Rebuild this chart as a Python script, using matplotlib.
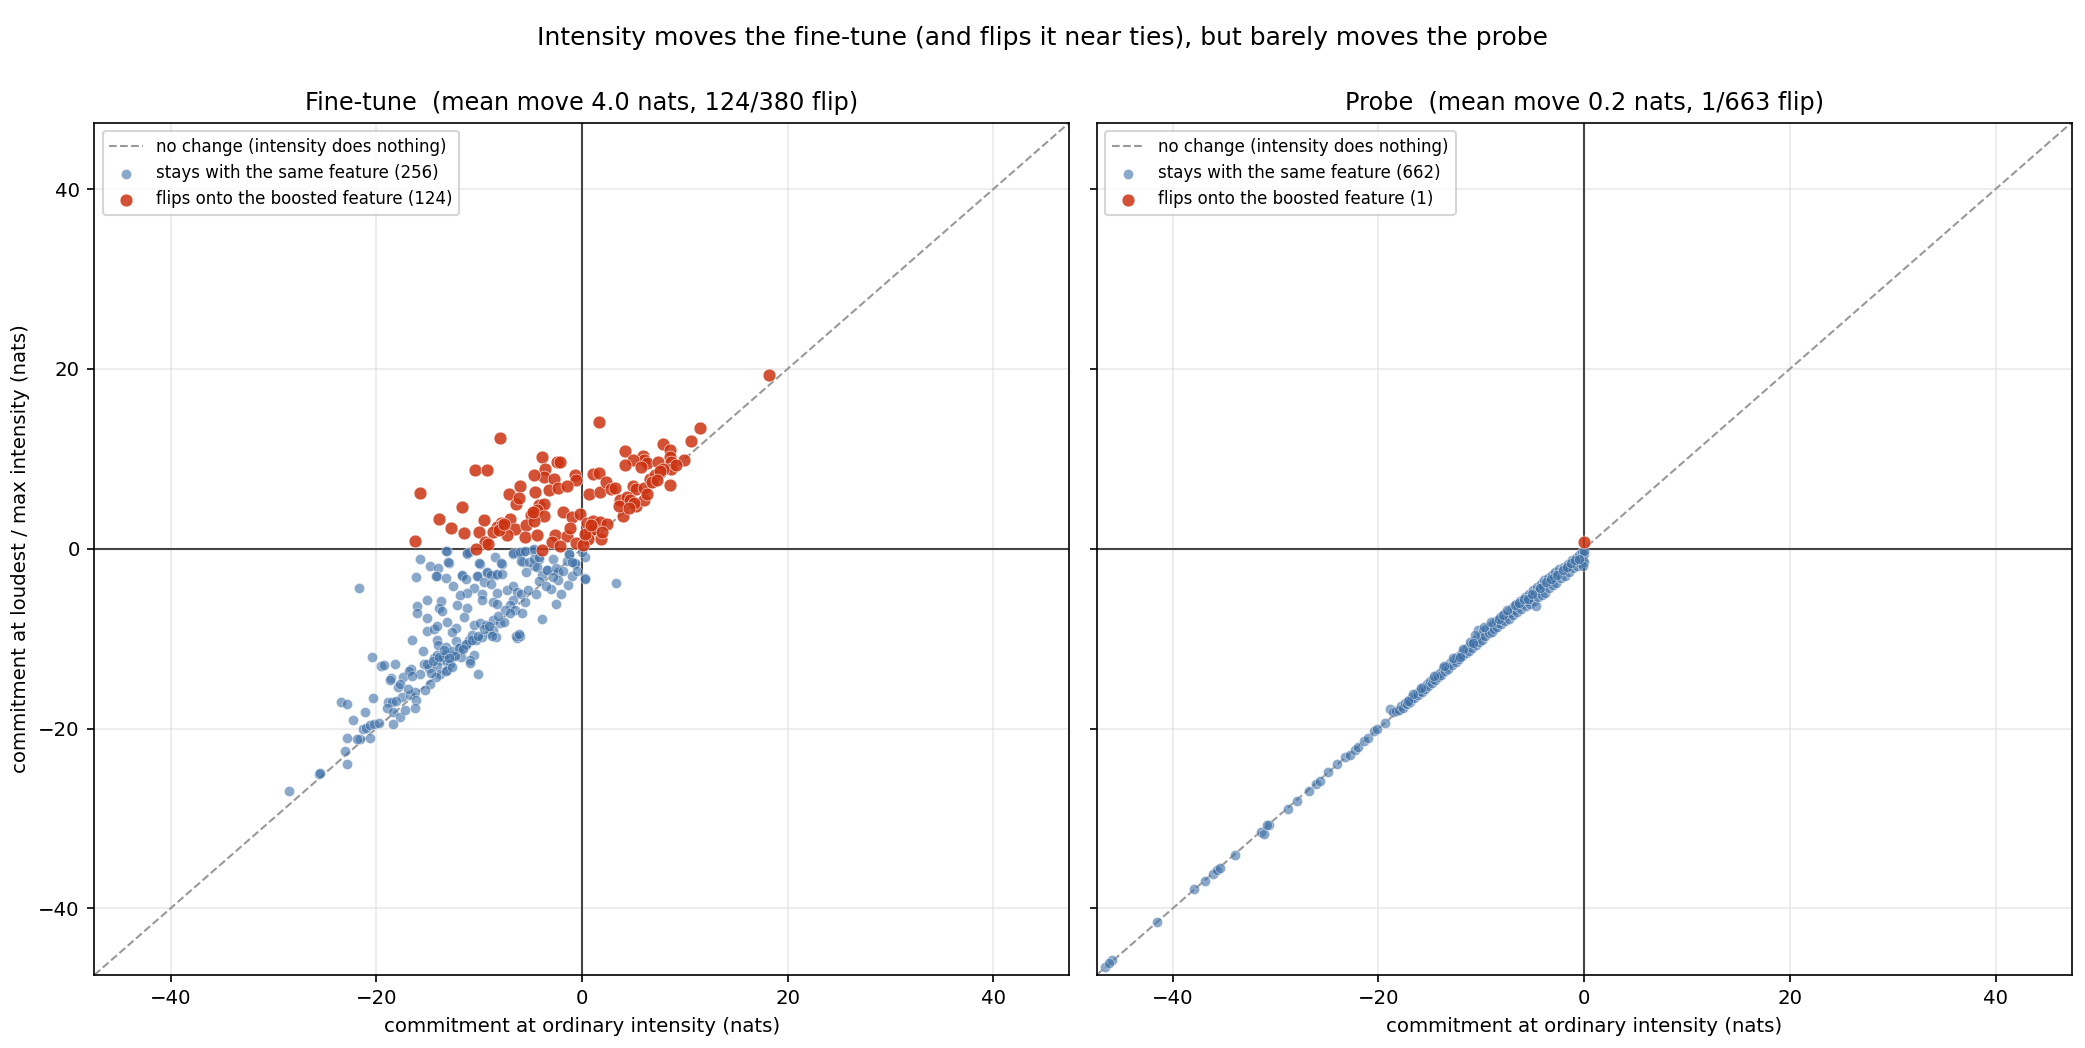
import numpy as np
import matplotlib.pyplot as plt

# fine-tune: points that keep the same feature (x = ordinary, y = loudest)
FT_STAY = [
    (-15.7, -1.1), (-14.8, -1.9), (-14.0, -2.2), (-13.1, -0.2), (-12.9, -1.6), (-11.2, -0.6),
    (-11.0, -0.4), (-9.9, -1.7), (-8.5, -0.9), (-7.8, -1.7), (-6.7, -0.6), (-6.2, -0.5),
    (-5.7, -0.4), (-4.9, -0.1), (-5.7, -1.5), (-4.7, -1.9), (-4.2, -1.1), (-2.8, -1.2),
    (-1.3, -0.6), (-0.7, -1.7), (0.3, -0.9), (-16.1, -3.2), (-14.1, -3.0), (-11.7, -3.0),
    (-10.1, -3.0), (-9.2, -2.7), (-8.4, -2.9), (-5.4, -2.6), (-3.4, -2.4), (-2.3, -2.6),
    (0.3, -3.3), (3.3, -3.8), (-21.7, -4.4), (-13.2, -0.2), (-11.2, -0.5), (-13.0, -1.5),
    (-14.2, -3.0), (-13.2, -3.3), (-11.7, -2.9), (-11.3, -3.4), (-12.5, -4.2), (-10.5, -4.4),
    (-11.2, -4.9), (-11.9, -5.1), (-10.0, -1.6), (-7.9, -1.6), (-10.2, -3.0), (-9.5, -3.7),
    (-9.2, -2.6), (-8.8, -2.9), (-8.3, -2.8), (-7.8, -2.8), (-8.8, -3.9), (-8.3, -4.9),
    (-9.7, -5.0), (-9.7, -5.7), (-8.6, -5.9), (-8.3, -6.1), (-6.7, -0.5), (-6.0, -0.4),
    (-5.5, -0.3), (-4.7, 0.0), (-5.9, -1.4), (-5.1, -1.5), (-4.7, -1.2), (-4.2, -0.9),
    (-4.4, -2.0), (-3.9, -2.9), (-3.4, -2.4), (-2.5, -2.2), (-1.5, -1.4), (-0.7, -1.6),
    (-1.3, -0.6), (-4.2, -3.6), (-2.3, -3.5), (-1.4, -4.0), (0.3, -3.4), (-7.3, -4.6),
    (-6.7, -4.2), (-6.3, -4.8), (-5.9, -5.0), (-5.2, -4.6), (-6.7, -5.7), (-7.0, -6.3),
    (-7.5, -6.8), (-6.5, -6.8), (-5.8, -7.1), (-2.5, -6.1), (-3.9, -7.8), (-15.1, -5.7),
    (-13.7, -5.8), (-16.0, -6.4), (-16.0, -7.2), (-13.9, -6.6), (-13.6, -6.9), (-12.1, -6.3),
    (-11.2, -6.6), (-15.1, -7.7), (-13.1, -8.2), (-11.5, -7.6), (-10.5, -8.5), (-9.9, -8.3),
    (-9.3, -8.5), (-8.6, -7.9), (-8.0, -8.3), (-7.6, -8.1), (-8.6, -9.0), (-8.9, -9.4),
    (-8.4, -9.8), (-15.1, -9.1), (-14.4, -8.9), (-14.1, -8.6), (-12.2, -8.8), (-12.6, -9.3),
    (-16.5, -10.1), (-15.5, -11.4), (-14.1, -10.2), (-14.0, -10.7), (-13.2, -10.9), (-12.2, -10.3),
    (-11.9, -10.9), (-11.3, -10.7), (-11.0, -10.2), (-10.7, -9.6), (-10.3, -10.2), (-9.7, -9.8),
    (-6.3, -9.9), (-6.0, -9.7), (-20.4, -12.0), (-19.5, -13.1), (-19.2, -12.9), (-18.2, -12.8),
    (-14.4, -12.2), (-14.1, -11.8), (-13.8, -12.4), (-13.5, -12.1), (-13.1, -12.6), (-12.8, -12.8),
    (-15.4, -12.8), (-14.9, -13.3), (-15.7, -13.9), (-14.1, -13.1), (-12.5, -11.8), (-11.8, -12.0),
    (-10.5, -11.8), (-10.9, -12.4), (-13.1, -13.5), (-13.8, -13.9), (-10.1, -13.9), (-16.6, -13.4),
    (-17.4, -14.3), (-18.6, -14.4), (-17.9, -15.4), (-17.7, -15.0), (-20.3, -16.6), (-18.9, -17.0),
    (-17.5, -16.5), (-16.7, -16.3), (-16.2, -15.9), (-16.1, -16.8), (-23.4, -17.0), (-22.8, -17.3),
    (-18.7, -14.6), (-16.8, -13.6), (-16.5, -14.2), (-18.5, -17.1), (-18.1, -16.9), (-16.2, -17.7),
    (-19.0, -17.7), (-18.4, -18.2), (-17.7, -18.7), (-17.2, -17.9), (-21.1, -18.2), (-22.3, -19.1),
    (-21.3, -20.1), (-21.0, -19.9), (-20.6, -19.6), (-20.2, -19.5), (-19.7, -19.4), (-20.6, -21.0),
    (-21.6, -21.2), (-21.9, -21.2), (-22.8, -21.0), (-18.4, -19.5), (-23.0, -22.5), (-22.8, -24.0),
    (-25.6, -25.1), (-25.5, -25.0), (-28.5, -26.9), (-15.1, -12.8), (-14.5, -12.5), (-13.9, -12.1),
    (-13.2, -11.7), (-12.6, -11.4), (-12.0, -11.0), (-11.3, -10.6), (-10.7, -10.1), (-10.1, -9.7),
    (-14.2, -14.3), (-14.8, -15.0), (-15.3, -15.7), (-13.2, -13.6), (-12.6, -13.2), (-10.9, -12.7),
    (-8.7, -9.7), (-6.4, -9.7), (-6.1, -9.5), (-3.0, -4.5), (-2.0, -5.0), (-1.0, -3.0),
    (-0.5, -2.5), (-9.5, -8.9), (-9.0, -8.6), (-8.2, -7.5), (-7.0, -7.2), (-5.5, -5.9),
    (-4.5, -5.0), (-3.5, -4.1), (-2.8, -3.2), (-1.8, -2.5), (-1.0, -1.5), (0.0, -0.4),
    (-13.4, -11.3), (-12.3, -11.9), (-11.6, -11.2), (-12.9, -12.2), (-14.7, -13.8), (-16.9, -15.6),
]

# fine-tune: points that flip onto the boosted feature
FT_FLIP = [
    (1.7, 14.1), (-8.0, 12.3), (11.5, 13.4), (10.6, 12.0), (7.9, 11.6), (8.6, 11.0),
    (4.2, 10.9), (-3.9, 10.2), (-2.4, 9.7), (-2.1, 9.7), (-10.4, 8.8), (-9.2, 8.7),
    (5.9, 10.3), (6.0, 9.9), (5.0, 9.9), (6.3, 9.5), (4.2, 9.3), (5.7, 9.1),
    (7.4, 9.6), (8.6, 10.2), (8.7, 9.7), (9.9, 9.9), (8.7, 8.9), (7.9, 8.9),
    (-3.6, 8.9), (-3.7, 8.0), (-4.7, 8.2), (-2.7, 7.7), (-0.7, 8.2), (-0.6, 7.6),
    (1.1, 8.3), (1.7, 8.4), (-15.7, 6.2), (-7.1, 6.1), (-6.0, 7.0), (-4.6, 6.3),
    (-3.2, 6.5), (-2.3, 6.7), (-1.5, 7.0), (0.7, 6.1), (1.8, 6.3), (2.3, 7.4),
    (2.8, 6.6), (3.2, 6.7), (5.0, 7.0), (5.3, 6.6), (6.0, 6.7), (6.6, 7.8),
    (7.1, 8.2), (7.6, 8.6), (6.8, 7.4), (8.6, 7.1), (-11.7, 4.6), (-6.4, 5.0),
    (-4.2, 4.9), (-3.7, 5.0), (-4.4, 4.3), (-5.0, 3.8), (-3.7, 3.6), (-1.8, 4.1),
    (-1.0, 3.5), (-0.2, 3.9), (3.7, 5.4), (4.4, 5.8), (4.7, 5.4), (5.3, 4.8),
    (6.0, 5.4), (4.0, 3.6), (3.6, 4.8), (-13.9, 3.3), (-9.5, 3.2), (-7.0, 3.3),
    (-7.9, 2.9), (-8.3, 2.4), (-7.8, 2.6), (-8.6, 1.9), (-12.7, 2.3), (-11.5, 1.8),
    (-10.0, 1.9), (-6.5, 2.2), (-7.3, 1.5), (-5.4, 2.6), (-4.7, 3.1), (-5.5, 1.3),
    (-4.4, 1.5), (-2.6, 1.5), (-1.5, 1.4), (0.5, 2.9), (1.1, 3.1), (1.8, 3.0),
    (2.4, 2.8), (0.8, 2.0), (1.1, 2.2), (1.9, 1.1), (0.6, 1.1), (-16.2, 0.9),
    (-9.4, 0.7), (-9.1, 0.5), (-10.3, 0.0), (-2.9, 0.7), (-2.1, 0.3), (-0.6, 0.6),
    (0.1, 0.4), (-3.9, -0.1), (18.2, 19.3), (-8.1, 2.1), (-7.6, 2.8), (-4.8, 4.1),
    (0.3, 1.6), (0.9, 2.6), (5.1, 5.1), (6.3, 6.1), (7.3, 7.6), (9.1, 9.3),
    (-1.2, 2.3), (-6.1, 5.6), (2.0, 1.9), (4.6, 4.5),
]

# probe: points that keep the same feature
PR_STAY = [
    (-46.6, -46.5), (-45.9, -45.8), (-46.2, -46.1), (-41.5, -41.5), (-37.9, -37.8), (-36.9, -37.0),
    (-36.1, -36.2), (-35.7, -35.7), (-35.4, -35.5), (-34.0, -34.1), (-31.4, -31.5), (-31.1, -31.7),
    (-30.6, -30.7), (-30.8, -30.7), (-28.8, -29.0), (-27.9, -28.1), (-26.8, -27.0), (-26.1, -26.2),
    (-25.7, -25.8), (-24.9, -24.8), (-24.0, -24.0), (-23.3, -23.2), (-22.8, -22.9), (-22.3, -22.4),
    (-22.0, -22.1), (-21.4, -21.4), (-21.0, -21.1), (-20.4, -20.3), (-20.1, -20.0), (-19.4, -19.4),
    (-18.9, -17.8), (-18.6, -18.2), (-18.3, -18.0), (-18.0, -17.9), (-17.8, -17.5), (-17.6, -17.7),
    (-17.4, -17.2), (-17.2, -17.3), (-17.0, -16.8), (-16.9, -17.0), (-16.7, -16.5), (-16.5, -16.6),
    (-16.3, -16.0), (-16.2, -16.3), (-16.0, -15.8), (-15.8, -15.9), (-15.7, -15.4), (-15.5, -15.6),
    (-15.3, -15.1), (-15.2, -15.3), (-15.0, -14.7), (-14.8, -14.9), (-14.7, -14.5), (-14.5, -14.6),
    (-14.3, -14.0), (-14.2, -14.3), (-14.0, -13.8), (-13.9, -14.0), (-13.7, -13.3), (-13.5, -13.6),
    (-13.4, -13.2), (-13.2, -13.4), (-13.0, -12.7), (-12.9, -12.9), (-12.7, -12.4), (-12.5, -12.6),
    (-12.4, -12.0), (-12.2, -12.3), (-12.0, -11.7), (-11.9, -11.9), (-11.7, -11.3), (-11.5, -11.6),
    (-11.4, -11.0), (-11.2, -11.4), (-11.0, -10.6), (-10.9, -11.0), (-10.7, -10.3), (-10.5, -10.7),
    (-10.4, -9.9), (-10.3, -9.0), (-10.2, -10.4), (-10.0, -9.6), (-9.9, -10.1), (-9.8, -9.2),
    (-9.6, -9.7), (-9.5, -8.9), (-9.3, -9.4), (-9.2, -8.6), (-9.0, -9.3), (-8.9, -8.4),
    (-8.8, -8.9), (-8.6, -8.0), (-8.5, -8.7), (-8.4, -8.3), (-8.2, -7.6), (-8.1, -8.4),
    (-8.0, -7.9), (-7.8, -7.3), (-7.7, -8.0), (-7.6, -7.5), (-7.4, -7.0), (-7.3, -7.8),
    (-7.2, -7.1), (-7.0, -6.6), (-6.9, -7.4), (-6.8, -6.8), (-6.6, -6.2), (-6.5, -7.0),
    (-6.4, -6.5), (-6.2, -5.8), (-6.1, -6.7), (-6.0, -6.1), (-5.8, -5.4), (-5.7, -6.4),
    (-5.6, -5.8), (-5.4, -5.0), (-5.3, -6.1), (-5.2, -5.4), (-5.0, -4.6), (-4.9, -5.8),
    (-4.8, -5.0), (-4.7, -6.4), (-4.6, -4.3), (-4.5, -5.4), (-4.4, -4.6), (-4.2, -3.9),
    (-4.1, -5.1), (-4.0, -4.2), (-3.9, -3.5), (-3.8, -4.9), (-3.6, -3.8), (-3.5, -3.3),
    (-3.4, -4.4), (-3.3, -3.6), (-3.1, -2.9), (-3.0, -4.0), (-2.9, -3.2), (-2.8, -2.6),
    (-2.7, -3.8), (-2.5, -2.8), (-2.4, -2.3), (-2.3, -3.3), (-2.2, -2.5), (-2.0, -2.0),
    (-1.9, -3.0), (-1.8, -2.2), (-1.6, -1.7), (-1.5, -2.6), (-1.4, -1.9), (-1.2, -1.3),
    (-1.1, -2.2), (-1.0, -1.6), (-0.8, -1.0), (-0.7, -1.9), (-0.6, -1.3), (-0.5, -0.7),
    (-0.4, -1.6), (-0.3, -1.0), (-0.2, -0.4), (-0.1, -1.3), (0.0, -0.6), (0.0, -1.5),
    (0.0, -0.2), (-0.1, -1.9), (-14.6, -14.2), (-13.6, -13.0), (-12.8, -12.2), (-11.8, -11.1),
    (-11.1, -10.4), (-10.6, -9.6), (-9.7, -8.7), (-9.1, -8.2), (-8.3, -7.8), (-7.9, -7.4),
    (-7.5, -6.8), (-6.7, -6.3), (-6.3, -6.0), (-5.9, -5.6), (-5.5, -5.6), (-5.1, -5.0),
    (-4.3, -4.4), (-3.7, -3.7), (-3.2, -3.4), (-2.6, -2.9), (-2.1, -2.4), (-1.7, -2.0),
    (-1.3, -1.6), (-0.9, -1.3), (-0.5, -1.1), (-15.9, -15.5), (-16.6, -16.2), (-17.1, -16.9),
    (-12.1, -12.0), (-10.8, -10.5),
]

# probe: the single flip
PR_FLIP = [(0.0, 0.7)]

PANEL_TITLES = [
    "Fine-tune  (mean move 4.0 nats, 124/380 flip)",
    "Probe  (mean move 0.2 nats, 1/663 flip)",
]
STAY_COUNTS = [256, 662]
FLIP_COUNTS = [124, 1]

LIM = 47.4
BLUE = "#3d6fa6"
RED = "#cc3311"

fig, axes = plt.subplots(1, 2, figsize=(13.9, 6.987), dpi=150, sharey=True)
fig.subplots_adjust(left=0.0453, right=0.9936, bottom=0.0698, top=0.883, wspace=0.028)

panels = [(FT_STAY, FT_FLIP), (PR_STAY, PR_FLIP)]
for i, ax in enumerate(axes):
    stay = np.array(panels[i][0])
    flip = np.array(panels[i][1])

    ax.plot([-LIM, LIM], [-LIM, LIM], ls="--", color="#999999", lw=1,
            label="no change (intensity does nothing)", zorder=1)
    ax.axhline(0, color="#444444", lw=1, zorder=1)
    ax.axvline(0, color="#444444", lw=1, zorder=1)
    ax.scatter(stay[:, 0], stay[:, 1], s=24, color=BLUE, alpha=0.6,
               edgecolors="white", linewidths=0.3, zorder=2,
               label=f"stays with the same feature ({STAY_COUNTS[i]})")
    ax.scatter(flip[:, 0], flip[:, 1], s=38, color=RED, alpha=0.85,
               edgecolors="white", linewidths=0.3, zorder=3,
               label=f"flips onto the boosted feature ({FLIP_COUNTS[i]})")

    ax.set_xlim(-LIM, LIM)
    ax.set_ylim(-LIM, LIM)
    ax.grid(True, color="#dddddd", alpha=0.6, lw=0.8)
    ax.set_axisbelow(True)
    ax.tick_params(labelsize=9.5)
    ax.set_title(PANEL_TITLES[i], fontsize=11.5)
    ax.set_xlabel("commitment at ordinary intensity (nats)", fontsize=9.5)
    ax.legend(loc="upper left", fontsize=8)

axes[0].set_ylabel("commitment at loudest / max intensity (nats)", fontsize=9.5)
fig.suptitle("Intensity moves the fine-tune (and flips it near ties), but barely moves the probe",
             fontsize=12, y=0.975)

fig.savefig("out.png", dpi=150)
